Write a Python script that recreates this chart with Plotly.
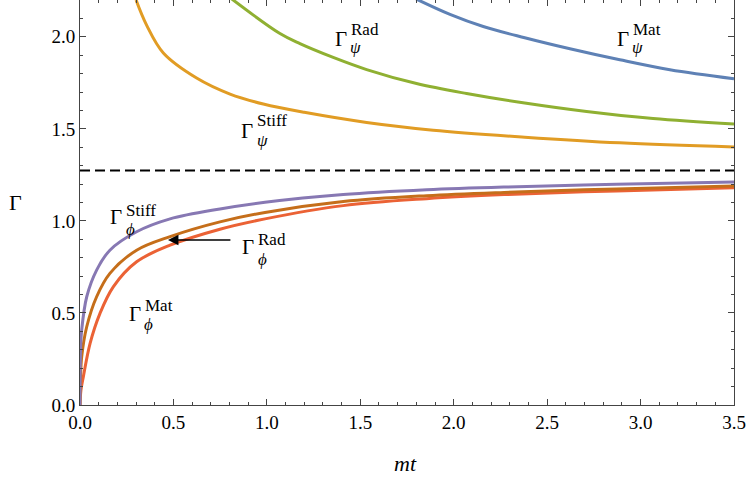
import plotly.graph_objects as go

# ---- data ----
t_psi_stiff = [0.30, 0.357, 0.446, 0.624, 0.803, 0.981, 1.20, 1.534, 1.890, 2.38, 2.889, 3.5]
g_psi_stiff = [2.20, 2.062, 1.912, 1.776, 1.689, 1.635, 1.590, 1.535, 1.493, 1.455, 1.424, 1.402]

t_psi_rad = [0.80, 1.07, 1.177, 1.355, 1.534, 1.801, 2.069, 2.38, 2.711, 3.067, 3.5]
g_psi_rad = [2.215, 2.018, 1.963, 1.888, 1.822, 1.746, 1.692, 1.64, 1.594, 1.556, 1.526]

t_psi_mat = [1.80, 1.98, 2.158, 2.38, 2.622, 2.889, 3.157, 3.5]
g_psi_mat = [2.205, 2.122, 2.056, 1.995, 1.935, 1.875, 1.821, 1.772]

t_phi_stiff = [0.0, 0.003, 0.009, 0.036, 0.089, 0.16, 0.303, 0.482, 0.749, 0.99, 1.409, 1.855, 2.27, 2.87, 3.5]
g_phi_stiff = [0.0, 0.30, 0.407, 0.588, 0.733, 0.841, 0.941, 1.011, 1.065, 1.101, 1.143, 1.169, 1.184, 1.199, 1.212]

t_phi_rad = [0.0, 0.003, 0.009, 0.036, 0.089, 0.16, 0.303, 0.482, 0.749, 0.99, 1.409, 1.855, 2.27, 2.87, 3.5]
g_phi_rad = [0.0, 0.15, 0.262, 0.425, 0.588, 0.715, 0.841, 0.915, 0.995, 1.046, 1.105, 1.137, 1.155, 1.174, 1.19]

t_phi_mat = [0.0, 0.005, 0.018, 0.054, 0.107, 0.178, 0.303, 0.482, 0.749, 0.99, 1.409, 1.855, 2.27, 2.87, 3.5]
g_phi_mat = [0.0, 0.08, 0.154, 0.335, 0.498, 0.642, 0.778, 0.868, 0.955, 1.011, 1.083, 1.121, 1.143, 1.163, 1.18]

t_limit = [0.0, 3.5]
g_limit = [1.2732, 1.2732]

x_ticks = [0.0, 0.5, 1.0, 1.5, 2.0, 2.5, 3.0, 3.5]
x_tick_text = ["0.0", "0.5", "1.0", "1.5", "2.0", "2.5", "3.0", "3.5"]
y_ticks = [0.0, 0.5, 1.0, 1.5, 2.0]
y_tick_text = ["0.0", "0.5", "1.0", "1.5", "2.0"]

C_BLUE = "#5E81B5"
C_ORANGE = "#E19C24"
C_GREEN = "#8FB032"
C_RED = "#EB6235"
C_PURPLE = "#8778B3"
C_BROWN = "#C56E1A"

FONT = "Liberation Serif"

fig = go.Figure()

def add_curve(t, g, color):
    fig.add_trace(go.Scatter(x=t, y=g, mode="lines",
                             line=dict(color=color, width=3, shape="spline", smoothing=1.0),
                             hoverinfo="skip", showlegend=False))

add_curve(t_psi_mat, g_psi_mat, C_BLUE)
add_curve(t_psi_rad, g_psi_rad, C_GREEN)
add_curve(t_psi_stiff, g_psi_stiff, C_ORANGE)
add_curve(t_phi_mat, g_phi_mat, C_RED)
add_curve(t_phi_rad, g_phi_rad, C_BROWN)
add_curve(t_phi_stiff, g_phi_stiff, C_PURPLE)

fig.add_trace(go.Scatter(x=t_limit, y=g_limit, mode="lines",
                         line=dict(color="black", width=2, dash="10px,5px"),
                         hoverinfo="skip", showlegend=False))

# pixel -> data helpers for label placement
def px2x(px):
    return (px - 80) / 186.9

def py2y(py):
    return (405 - py) / 184.2

annotations = []

def label(g_right, gy, sup, s_left, sy, sub, b_left, by):
    annotations.append(dict(x=px2x(g_right), y=py2y(gy), text="Γ", showarrow=False,
                            font=dict(family=FONT, size=21, color="black"),
                            xanchor="right", yanchor="middle", borderpad=0))
    annotations.append(dict(x=px2x(s_left), y=py2y(sy), text=sup, showarrow=False,
                            font=dict(family=FONT, size=17, color="black"),
                            xanchor="left", yanchor="middle", borderpad=0))
    annotations.append(dict(x=px2x(b_left), y=py2y(by), text="<i>" + sub + "</i>", showarrow=False,
                            font=dict(family=FONT, size=17, color="black"),
                            xanchor="left", yanchor="middle", borderpad=0))

label(348, 39, "Rad", 350, 29, "ψ", 349, 47)
label(630, 39, "Mat", 632, 29, "ψ", 631, 47)
label(254, 131, "Stiff", 256, 120, "ψ", 256, 140)
label(123, 217, "Stiff", 125, 210, "ϕ", 125, 229)
label(255, 247, "Rad", 257, 239.5, "ϕ", 257, 259)
label(142, 313.5, "Mat", 144, 305, "ϕ", 143, 324)

# arrow pointing to Rad phi curve
annotations.append(dict(x=0.471, y=0.896, ax=0.813, ay=0.896, axref="x", ayref="y",
                        xref="x", yref="y", text="", showarrow=True,
                        arrowhead=2, arrowsize=1.3, arrowwidth=1.6, arrowcolor="black"))

# axis titles
annotations.append(dict(x=(405 - 80) / 654, y=(405 - 463) / 405, xref="paper", yref="paper",
                        text="<i>mt</i>", showarrow=False,
                        font=dict(family=FONT, size=22, color="black"),
                        xanchor="center", yanchor="middle"))
annotations.append(dict(x=(15 - 80) / 654, y=(405 - 202) / 405, xref="paper", yref="paper",
                        text="Γ", showarrow=False,
                        font=dict(family=FONT, size=22, color="black"),
                        xanchor="center", yanchor="middle"))

for a in annotations:
    a.setdefault("xref", "x")
    a.setdefault("yref", "y")

axis_common = dict(
    showline=True, linecolor="#444444", linewidth=1, mirror="allticks",
    ticks="inside", ticklen=6, tickwidth=1, tickcolor="#444444",
    showgrid=False, zeroline=False,
    tickfont=dict(family=FONT, size=19, color="black"),
    minor=dict(ticks="inside", ticklen=3, tickwidth=1, tickcolor="#444444", dtick=0.1, showgrid=False),
)

fig.update_layout(
    width=750, height=484,
    margin=dict(l=80, r=16, t=0, b=79),
    paper_bgcolor="white", plot_bgcolor="white",
    annotations=annotations,
    xaxis=dict(range=[0, 3.5], tickvals=x_ticks, ticktext=x_tick_text, **axis_common),
    yaxis=dict(range=[0, 2.2], tickvals=y_ticks, ticktext=y_tick_text, **axis_common),
)

fig.write_html("out.html")
